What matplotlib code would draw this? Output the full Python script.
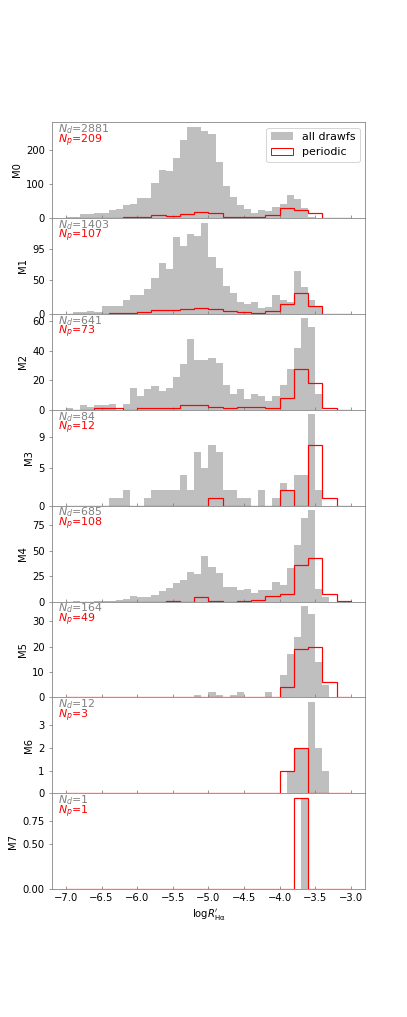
# Histograms of H-alpha activity per spectral type: all dwarfs vs periodic ones
import numpy as np
import matplotlib
matplotlib.use('Agg')
import matplotlib.pyplot as plt
from matplotlib.patches import Patch

# bin edges (0.1 dex for all dwarfs, 0.2 dex for periodic)
edges_all = np.linspace(-7.0, -3.0, 41)
edges_per = np.linspace(-7.0, -3.0, 21)

types = ['M0', 'M1', 'M2', 'M3', 'M4', 'M5', 'M6', 'M7']
n_all = [2881, 1403, 641, 84, 685, 164, 12, 1]
n_per = [209, 107, 73, 12, 108, 49, 3, 1]

# counts per 0.1 dex bin, from -7.0 to -3.0
all_M0 = [2, 2, 11, 11, 14, 14, 24, 27, 38, 42, 58, 58, 103, 140, 136, 176, 228, 267, 267, 254,
          245, 163, 93, 60, 37, 27, 14, 22, 21, 33, 42, 66, 55, 30, 3, 1, 1, 0, 0, 0]
all_M1 = [0, 2, 3, 4, 3, 12, 12, 12, 20, 28, 27, 36, 52, 75, 66, 113, 100, 117, 114, 134,
          84, 67, 41, 31, 18, 15, 18, 8, 10, 27, 21, 18, 63, 40, 20, 10, 0, 0, 0, 0]
all_M2 = [1, 0, 3, 2, 3, 3, 4, 0, 4, 15, 9, 14, 16, 13, 15, 22, 31, 48, 34, 34,
          35, 32, 17, 11, 14, 7, 11, 9, 6, 9, 17, 28, 42, 62, 56, 11, 0, 0, 0, 0]
all_M3 = [0, 0, 0, 0, 0, 0, 1, 1, 2, 0, 0, 1, 2, 2, 2, 2, 4, 2, 7, 5,
          8, 7, 2, 2, 1, 1, 0, 2, 0, 1, 3, 2, 4, 4, 12, 2, 0, 0, 0, 0]
all_M4 = [0, 1, 0, 0, 1, 1, 1, 2, 3, 5, 4, 4, 6, 10, 13, 18, 21, 29, 27, 45,
          34, 28, 14, 14, 11, 12, 8, 11, 11, 19, 16, 33, 56, 82, 90, 12, 4, 0, 0, 0]
all_M5 = [0, 0, 0, 0, 0, 0, 0, 0, 0, 0, 0, 0, 0, 0, 0, 0, 0, 0, 1, 0,
          2, 1, 0, 1, 2, 0, 0, 0, 2, 0, 9, 17, 24, 36, 33, 14, 5, 0, 0, 0]
all_M6 = [0] * 31 + [1, 2, 2, 4, 2, 1, 0, 0, 0]
all_M7 = [0] * 33 + [1, 0, 0, 0, 0, 0, 0]

# counts per 0.2 dex bin, from -7.0 to -3.0
per_M0 = [0, 0, 0, 1, 2, 4, 10, 7, 12, 17, 13, 2, 2, 2, 10, 28, 24, 14, 1, 0]
per_M1 = [0, 0, 0, 1, 1, 2, 6, 5, 7, 8, 7, 4, 2, 1, 4, 15, 31, 11, 0, 0]
per_M2 = [0, 0, 1, 1, 0, 1, 1, 1, 3, 3, 2, 1, 2, 2, 1, 8, 28, 18, 1, 0]
per_M3 = [0, 0, 0, 0, 0, 0, 0, 0, 0, 0, 1, 0, 0, 0, 0, 2, 0, 8, 1, 0]
per_M4 = [0, 0, 0, 0, 0, 0, 0, 1, 0, 4, 1, 0, 1, 2, 5, 7, 36, 43, 7, 1]
per_M5 = [0] * 15 + [4, 19, 20, 6, 0]
per_M6 = [0] * 15 + [1, 2, 0, 0, 0]
per_M7 = [0] * 16 + [1, 0, 0, 0]

all_counts = [all_M0, all_M1, all_M2, all_M3, all_M4, all_M5, all_M6, all_M7]
per_counts = [per_M0, per_M1, per_M2, per_M3, per_M4, per_M5, per_M6, per_M7]
yticks = [[0, 100, 200], [0, 50, 95], [0, 20, 40, 60], [0, 5, 9],
          [0, 25, 50, 75], [0, 10, 20, 30], [0, 1, 2, 3], [0, 0.5, 0.75]]

plt.rcParams['axes.edgecolor'] = 'grey'
plt.rcParams['xtick.color'] = 'grey'
plt.rcParams['ytick.color'] = 'grey'
plt.rcParams['xtick.labelcolor'] = 'black'
plt.rcParams['ytick.labelcolor'] = 'black'

fig, axes = plt.subplots(8, 1, sharex=True, figsize=(407 / 72, 1017 / 72), dpi=72)
fig.subplots_adjust(left=0.127, right=0.897, top=0.880, bottom=0.1256, hspace=0)

for i, ax in enumerate(axes):
    ax.hist(edges_all[:-1], bins=edges_all, weights=all_counts[i], color='grey', alpha=0.5)
    ax.hist(edges_per[:-1], bins=edges_per, weights=per_counts[i], histtype='step',
            color='red', lw=1.2)
    ax.set_yticks(yticks[i])
    ax.set_ylabel(types[i])
    ax.tick_params(axis='x', direction='in')
    ax.text(0.02, 1.0, r'$N_d$=%d' % n_all[i], color='grey', fontsize=11,
            transform=ax.transAxes, va='top', ha='left')
    ax.text(0.02, 0.895, r'$N_p$=%d' % n_per[i], color='red', fontsize=11,
            transform=ax.transAxes, va='top', ha='left')

handles = [Patch(facecolor='grey', alpha=0.5, label='all drawfs'),
           Patch(facecolor='none', edgecolor='red', label='periodic')]
axes[0].legend(handles=handles, loc='upper right', fontsize=11)
axes[-1].set_xlabel(r'$\mathrm{log}R^{\prime}_{\mathrm{H\alpha}}$')

fig.savefig('out.png', dpi=72)
